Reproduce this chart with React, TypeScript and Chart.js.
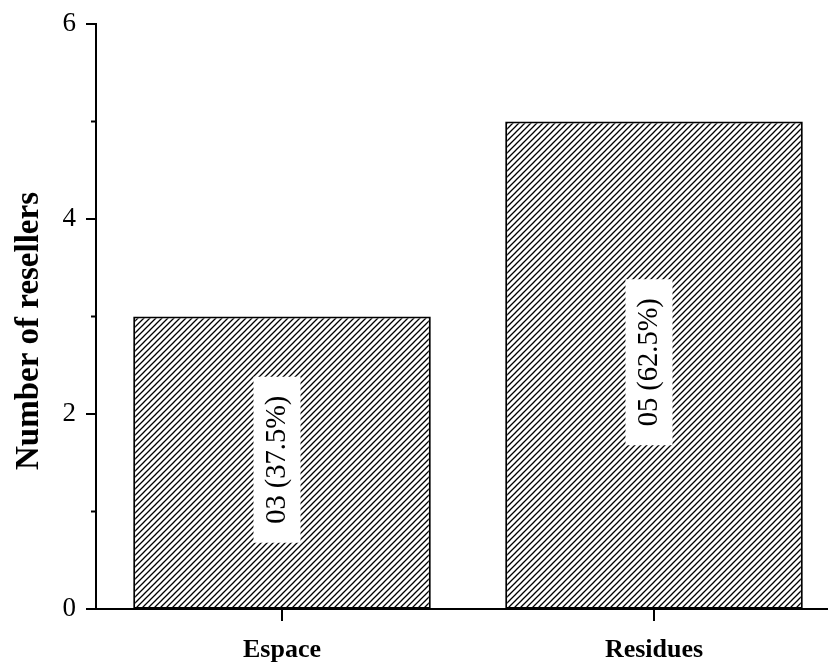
import React, { useEffect, useRef } from "react";
import { Chart, registerables } from "chart.js";

Chart.register(...registerables);

const categories = ["Espace", "Residues"];
const resellers = [3, 5];
const barLabels = ["03 (37.5%)", "05 (62.5%)"];
const yTickValues = [0, 1, 2, 3, 4, 5, 6];
const yAxisTitle = "Number of resellers";

const SERIF = "'Liberation Serif', 'Times New Roman', serif";

function makeHatch(): CanvasPattern | string {
  const s = 6;
  const c = document.createElement("canvas");
  c.width = s;
  c.height = s;
  const g = c.getContext("2d");
  if (!g) return "#fff";
  g.fillStyle = "#fff";
  g.fillRect(0, 0, s, s);
  g.strokeStyle = "#000";
  g.lineWidth = 1.3;
  g.beginPath();
  g.moveTo(0, s);
  g.lineTo(s, 0);
  g.moveTo(-1, 1);
  g.lineTo(1, -1);
  g.moveTo(s - 1, s + 1);
  g.lineTo(s + 1, s - 1);
  g.stroke();
  const p = g.createPattern(c, "repeat");
  return p || "#fff";
}

const axesPlugin = {
  id: "customAxes",
  afterDatasetsDraw(chart: any) {
    const ctx = chart.ctx;
    const meta = chart.getDatasetMeta(0);
    meta.data.forEach((bar: any, i: number) => {
      const cx = bar.x - 5;
      const cy = (bar.y + bar.base) / 2 - 3;
      const w = 47;
      const h = 166;
      ctx.save();
      ctx.fillStyle = "#fff";
      ctx.fillRect(cx - w / 2, cy - h / 2, w, h);
      ctx.translate(cx, cy);
      ctx.rotate(-Math.PI / 2);
      ctx.fillStyle = "#000";
      ctx.font = `28.5px ${SERIF}`;
      ctx.textAlign = "center";
      ctx.textBaseline = "middle";
      ctx.fillText(barLabels[i], 0, 1);
      ctx.restore();
    });
  },
  afterDraw(chart: any) {
    const ctx = chart.ctx;
    const area = chart.chartArea;
    const ys = chart.scales.y;
    const xs = chart.scales.x;
    ctx.save();
    ctx.strokeStyle = "#000";
    ctx.lineWidth = 2;
    ctx.lineCap = "butt";
    ctx.beginPath();
    ctx.moveTo(area.left, ys.getPixelForValue(6) - 1);
    ctx.lineTo(area.left, area.bottom);
    ctx.stroke();
    ctx.beginPath();
    ctx.moveTo(area.left - 10, area.bottom);
    ctx.lineTo(chart.width, area.bottom);
    ctx.stroke();
    yTickValues.forEach((v) => {
      const py = ys.getPixelForValue(v);
      const len = v % 2 === 0 ? 10 : 5;
      ctx.beginPath();
      ctx.moveTo(area.left - len, py);
      ctx.lineTo(area.left, py);
      ctx.stroke();
    });
    categories.forEach((_, i) => {
      const px = xs.getPixelForValue(i);
      ctx.beginPath();
      ctx.moveTo(px, area.bottom);
      ctx.lineTo(px, area.bottom + 12);
      ctx.stroke();
    });
    ctx.translate(29, 331);
    ctx.rotate(-Math.PI / 2);
    ctx.fillStyle = "#000";
    ctx.font = `bold 33px ${SERIF}`;
    ctx.textAlign = "center";
    ctx.textBaseline = "middle";
    ctx.fillText(yAxisTitle, 0, 0);
    ctx.restore();
  },
};

export default function App() {
  const ref = useRef<HTMLCanvasElement | null>(null);

  useEffect(() => {
    if (!ref.current) return;
    const hatch = makeHatch();
    const chart = new Chart(ref.current, {
      type: "bar",
      data: {
        labels: categories,
        datasets: [
          {
            data: resellers,
            backgroundColor: hatch as any,
            borderColor: "#000",
            borderWidth: 2,
            borderSkipped: false,
            barPercentage: 0.8,
            categoryPercentage: 1.0,
          },
        ],
      },
      options: {
        responsive: false,
        animation: false,
        devicePixelRatio: 1,
        layout: { padding: { left: 0, top: 24, right: 20, bottom: 0 } },
        plugins: {
          legend: { display: false },
          tooltip: { enabled: false },
          title: { display: false },
        },
        scales: {
          x: {
            type: "category",
            offset: true,
            grid: { display: false, drawTicks: false },
            border: { display: false },
            ticks: {
              color: "#000",
              padding: 26,
              font: { family: SERIF, size: 26, weight: "bold" },
              maxRotation: 0,
            },
            afterFit: (s: any) => {
              s.height = 53;
              s.paddingLeft = 0;
              s.paddingRight = 0;
            },
          },
          y: {
            min: 0,
            max: 6,
            grid: { display: false, drawTicks: false },
            border: { display: false },
            ticks: {
              stepSize: 1,
              color: "#000",
              padding: 20,
              font: { family: SERIF, size: 27 },
              callback: (v: any) => (Number(v) % 2 === 0 ? String(v) : ""),
            },
            afterFit: (s: any) => {
              s.width = 96;
              s.paddingTop = 0;
              s.paddingBottom = 0;
            },
          },
        },
      },
      plugins: [axesPlugin],
    });
    return () => chart.destroy();
  }, []);

  return (
    <div
      style={{
        position: "fixed",
        left: 0,
        top: 0,
        width: 828,
        height: 662,
        overflow: "hidden",
        background: "#fff",
      }}
    >
      <canvas ref={ref} width={860} height={662} style={{ display: "block" }} />
    </div>
  );
}
